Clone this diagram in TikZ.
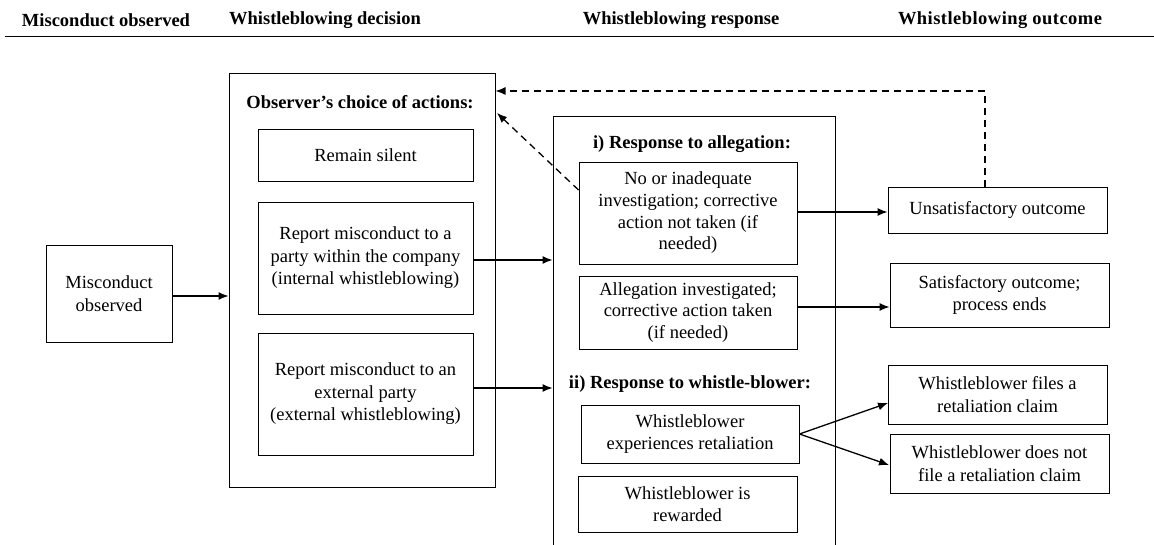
\documentclass[tikz,border=0pt]{standalone}
\usepackage{fontspec}
\setmainfont{Liberation Serif}
\usetikzlibrary{arrows.meta,calc}
\begin{document}
\begin{tikzpicture}[x=1pt,y=-1pt,
  txt/.style={font=\fontsize{18.5}{22.5}\selectfont, align=center, inner sep=0pt},
  hdr/.style={font=\fontsize{18.5}{22.5}\selectfont\bfseries, inner sep=0pt},
  box/.style={draw, line width=0.9pt, rectangle, txt},
  frame/.style={draw, line width=1pt, rectangle, inner sep=0pt},
  arr/.style={line width=1.3pt, -{Latex[length=10pt,width=8pt]}},
  darr/.style={arr, dash pattern=on 7pt off 5pt}
]
\useasboundingbox (0,0) rectangle (1154,545);
\fill[white] (0,0) rectangle (1154,545);
\clip (0,0) rectangle (1154,545);

% headers
\node[hdr] (h1) at (106,20) {Misconduct observed};
\node[hdr] (h2) at (325,20) {Whistleblowing decision};
\node[hdr] (h3) at (681,20) {Whistleblowing response};
\node[hdr, font=\fontsize{18.5}{22.5}\selectfont\bfseries\addfontfeature{LetterSpace=2.5}] (h4) at (1000,20) {Whistleblowing outcome};
\coordinate (rl) at (5,37);
\coordinate (rr) at (1154,37);
\draw[line width=1pt] (rl) -- (rr);

% misconduct
\node[box, minimum width=126pt, minimum height=97pt] (mis) at (109,293.5) {Misconduct\\observed};

% observer frame
\node[frame, minimum width=266pt, minimum height=413pt] (obs) at (362,280.5) {};
\node[hdr] (obst) at (360,102) {Observer’s choice of actions:};
\node[box, minimum width=215pt, minimum height=52pt] (silent) at (365.5,155) {Remain silent};
\node[box, minimum width=215pt, minimum height=112pt] (internal) at (365.5,258) {Report misconduct to a\\party within the company\\(internal whistleblowing)};
\node[box, minimum width=215pt, minimum height=122pt] (external) at (365.5,394) {Report misconduct to an\\external party\\(external whistleblowing)};

% response frame (open at bottom)
\node[frame, minimum width=282pt, minimum height=458pt] (resp) at (694,346) {};
\node[hdr] (respa) at (692,144) {i) Response to allegation:};
\node[box, minimum width=218pt, minimum height=102pt, font=\fontsize{18.5}{21.7}\selectfont] (noinv) at (688,213) {No or inadequate\\investigation; corrective\\action not taken (if\\needed)};
\node[box, minimum width=218pt, minimum height=73pt, font=\fontsize{18.5}{21.5}\selectfont] (alleg) at (688,312.5) {Allegation investigated;\\corrective action taken\\(if needed)};
\node[hdr] (respb) at (690,384) {ii) Response to whistle-blower:};
\node[box, minimum width=218pt, minimum height=58pt] (retal) at (690,434) {Whistleblower\\experiences retaliation};
\node[box, minimum width=219pt, minimum height=56pt] (reward) at (687.5,504) {Whistleblower is\\rewarded};

% outcomes
\node[box, minimum width=219pt, minimum height=46pt] (unsat) at (997.5,210) {Unsatisfactory outcome};
\node[box, minimum width=219pt, minimum height=64pt] (sat) at (999.5,295) {Satisfactory outcome;\\process ends};
\node[box, minimum width=219pt, minimum height=59pt] (files) at (997.5,394.5) {Whistleblower files a\\retaliation claim};
\node[box, minimum width=219pt, minimum height=59pt] (notfile) at (999.5,463.5) {Whistleblower does not\\file a retaliation claim};

% helper coordinates
\coordinate (yint) at (0,260);
\coordinate (yext) at (0,388);
\coordinate (ysat) at (0,307);
\coordinate (ytop) at (0,91);
\coordinate (xdash) at (985,0);
\coordinate (ydiag) at (0,190);
\coordinate (diagtip) at (497,113);
\coordinate (filesin) at (888,403);
\coordinate (notin) at (889,465);

% connectors
\draw[arr] (mis.east |- 0,296) -- (obs.west |- 0,296);
\draw[arr] (internal.east |- yint) -- (resp.west |- yint);
\draw[arr] (external.east |- yext) -- (resp.west |- yext);
\draw[arr] (noinv.east |- 0,212) -- (unsat.west |- 0,212);
\draw[arr] (alleg.east |- ysat) -- (sat.west |- ysat);
\draw[arr] (retal.east) -- (filesin);
\draw[arr] (retal.east) -- (notin);
\draw[darr] (xdash |- unsat.north) -- (xdash |- ytop) -- (obs.east |- ytop);
\draw[darr] (noinv.west |- ydiag) -- (diagtip);
\end{tikzpicture}
\end{document}
